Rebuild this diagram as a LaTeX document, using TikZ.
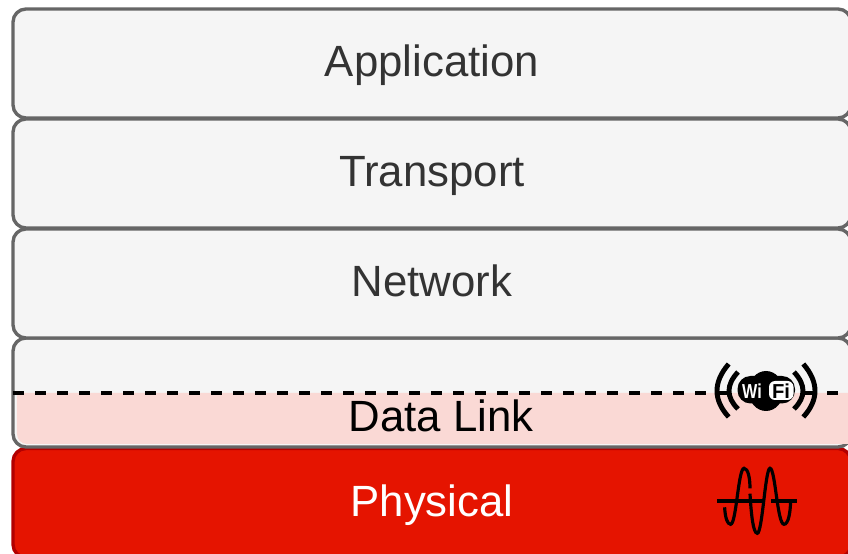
\documentclass[tikz,border=0pt]{standalone}
\usepackage{fontspec}
\setmainfont{Liberation Sans}
\usetikzlibrary{positioning}
\definecolor{layerfill}{HTML}{F5F5F5}
\definecolor{layerline}{HTML}{666666}
\definecolor{layertext}{HTML}{333333}
\definecolor{redfill}{HTML}{E51400}
\definecolor{redline}{HTML}{B20000}
\definecolor{pinkfill}{HTML}{FAD9D5}
\tikzset{
    mylayer/.style = {rectangle, rounded corners=0.26cm, line width=1.9pt, draw=layerline, fill=layerfill, align=center, minimum width=16.76cm, minimum height=2.18cm, text height=0.6cm, text depth=0.06cm, font=\fontsize{24.9}{30}\selectfont, text=layertext},
    mylayerr/.style = {mylayer, draw=redline, fill=redfill, text=white},
    mylabel/.style = {font=\fontsize{24.9}{30}\selectfont, text=black},
    edged/.style = {-,line width=2pt,black,dash pattern=on 6.26pt off 6.26pt},
    edgew/.style = {-,line width=2.8pt,black},
    edgep/.style = {-,line width=1.8pt,black},
    mywifi/.style = {font=\fontsize{11.5}{12}\selectfont\bfseries, inner sep=0pt}
}
\begin{document}
\begin{tikzpicture}
\path[use as bounding box] (0,0) rectangle (16.96,11.08);
\node[mylayerr] at (8.64, 1.02) (physical) {Physical};
\node[mylayer] at (8.64, 3.23) (datalink) {};
\node[mylayer] at (8.64, 5.41) (network) {Network};
\node[mylayer] at (8.64, 7.61) (transport) {Transport};
\node[mylayer] at (8.64, 9.81) (application) {Application};
%
\fill[pinkfill, rounded corners=0.2cm] (0.34,3.22) -- (0.34,2.2) -- (17.2,2.2) -- (17.2,3.22) [sharp corners] -- cycle;
\node[mylabel] at (8.82, 2.76) (datalabel) {Data Link};
%
\coordinate (dashl) at (0.26, 3.22);
\coordinate (dashr) at (16.96, 3.22);
\draw[edged] (dashl) -- (dashr);
%
\begin{scope}[shift={(15.32,3.26)},x=0.2mm,y=0.2mm]
\draw[edgew] (-37.3,27) .. controls (-52.9,9) and (-52.9,-9) .. (-37.3,-26);
\draw[edgew] (-28,19) .. controls (-40,6) and (-40,-6) .. (-28,-18);
\draw[edgew] (37.3,27) .. controls (52.9,9) and (52.9,-9) .. (37.3,-26);
\draw[edgew] (28,19) .. controls (40,6) and (40,-6) .. (28,-18);
\fill[black] (0,0) ellipse (17.5 and 20);
\fill[black, rounded corners=0.26cm] (-28.5,15) rectangle (29,-12.5);
\fill[white, rounded corners=0.12cm] (3,10) rectangle (27.5,-9);
\node[mywifi, text=white, xscale=0.8, transform shape] at (-14,0) (wi) {Wi};
\node[mywifi, text=black] at (15,0) (fi) {Fi};
\end{scope}
%
\begin{scope}[shift={(15.146,1.06)},x=0.2mm,y=0.2mm]
\draw[edgep] (-40,0) -- (6.5,0);
\draw[edgep] (14,0) -- (40,0);
\draw[edgep] (-32.7,-6.3) .. controls (-32,-17) and (-30,-23.3) .. (-26.7,-23.3) .. controls (-21,-23.3) and (-19,32.7) .. (-13.3,32.7) .. controls (-9,32.7) and (-7.3,22) .. (-7.3,12.7);
\draw[edgep] (-7.3,7.3) .. controls (-6,-15) and (-4,-32.3) .. (0,-32.3) .. controls (5,-32.3) and (8,32.7) .. (12.7,32.7) .. controls (18,32.7) and (20,-23.3) .. (26.7,-23.3) .. controls (31,-23.3) and (33,-12) .. (33.3,-0.7);
\end{scope}
\end{tikzpicture}
\end{document}
